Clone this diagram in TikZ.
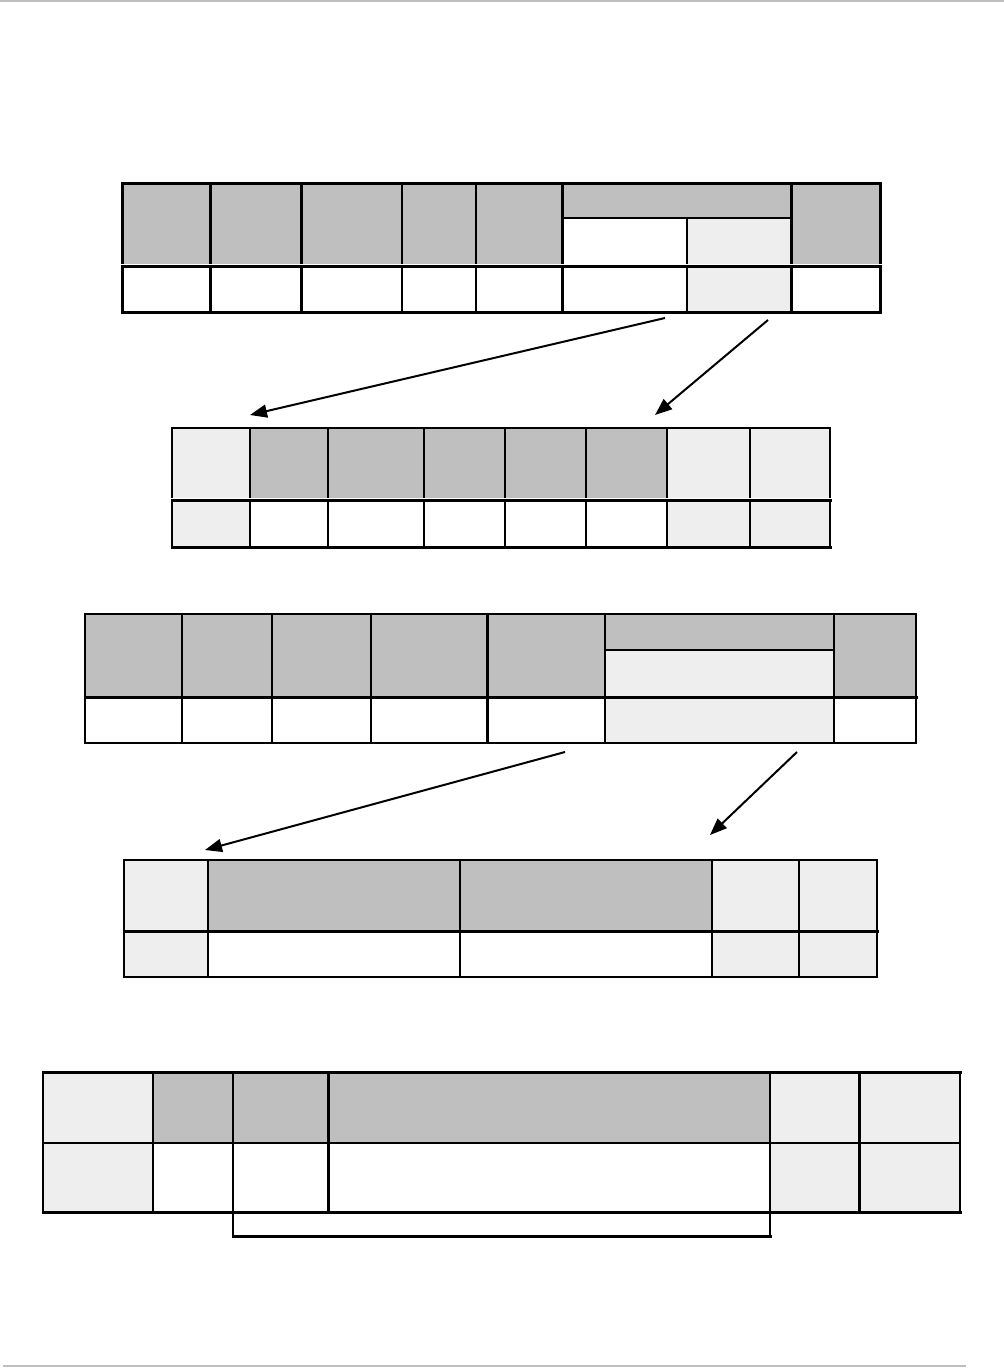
\documentclass[tikz,border=0pt]{standalone}
\usetikzlibrary{arrows.meta}
\definecolor{hdgray}{HTML}{BFBFBF}
\definecolor{ltgray}{HTML}{EEEEEE}
\begin{document}
\begin{tikzpicture}[x=0.5pt,y=-0.5pt,
  hd/.style={fill=hdgray}, lt/.style={fill=ltgray},
  thn/.style={line width=1pt}, thk/.style={line width=1.5pt},
  rule/.style={draw=hdgray,line width=1pt},
  link/.style={line width=1pt,-{Triangle[length=8.5pt,width=6.5pt]}}]
\useasboundingbox (0,0) rectangle (1004,1368);
% page rules
\draw[rule] (0,1) -- (1004,1);
\draw[rule] (3,1366) -- (966,1366);
% table 1
\fill[hd] (122,184) rectangle (880,264);
\fill[white] (562,218) rectangle (687,264);
\fill[lt] (687,218) rectangle (791,264);
\fill[lt] (687,266) rectangle (791,313);
\foreach \x/\s in {122/thk,210/thk,301/thk,402/thn,476/thn,562/thk,791/thk,880/thk}
  \draw[\s] (\x,184) -- (\x,264) (\x,267) -- (\x,313);
\draw[thn] (562,218) -- (791,218) (687,218) -- (687,264) (687,267) -- (687,313);
\draw[thk,line cap=rect] (122,184) -- (880,184) (122,267) -- (880,267) (122,313) -- (880,313);
\coordinate (t1a) at (665,318);
\coordinate (t1b) at (768,320);
% table 2
\fill[lt] (172,428) rectangle (250,498);
\fill[hd] (250,428) rectangle (667,498);
\fill[lt] (667,428) rectangle (830,498);
\fill[lt] (172,501) rectangle (250,547);
\fill[lt] (667,501) rectangle (830,547);
\foreach \x in {172,250,328,424,505,586,667,750,830}
  \draw[thn] (\x,428) -- (\x,498) (\x,501) -- (\x,547);
\draw[thn,line cap=rect] (172,428) -- (830,428);
\draw[thk,line cap=rect] (172,501) -- (830,501) (172,547) -- (830,547);
\coordinate (t2a) at (250,415);
\coordinate (t2b) at (655,415);
\draw[link] (t1a) -- (t2a);
\draw[link] (t1b) -- (t2b);
% table 3
\fill[hd] (85,614) rectangle (916,696);
\fill[lt] (605,650) rectangle (834,696);
\fill[lt] (605,698) rectangle (834,743);
\foreach \x/\s in {85/thn,182/thn,272/thn,371/thn,487/thk,605/thn,834/thn,916/thn}
  \draw[\s] (\x,614) -- (\x,743);
\draw[thn] (605,650) -- (834,650);
\draw[thn,line cap=rect] (85,614) -- (916,614) (85,743) -- (916,743);
\draw[thk,line cap=rect] (85,697) -- (916,697);
\coordinate (t3a) at (565,752);
\coordinate (t3b) at (797,752);
% table 4
\fill[lt] (124,860) rectangle (208,930);
\fill[hd] (208,860) rectangle (712,930);
\fill[lt] (712,860) rectangle (877,930);
\fill[lt] (124,932) rectangle (208,977);
\fill[lt] (712,932) rectangle (877,977);
\foreach \x in {124,208,460,712,799,877}
  \draw[thn] (\x,860) -- (\x,977);
\draw[thn,line cap=rect] (124,860) -- (877,860) (124,977) -- (877,977);
\draw[thk,line cap=rect] (124,931) -- (877,931);
\coordinate (t4a) at (205,850);
\coordinate (t4b) at (710,835);
\draw[link] (t3a) -- (t4a);
\draw[link] (t3b) -- (t4b);
% table 5
\fill[lt] (43,1072) rectangle (153,1142);
\fill[hd] (153,1072) rectangle (770,1142);
\fill[lt] (770,1072) rectangle (960,1142);
\fill[lt] (43,1143) rectangle (153,1212);
\fill[lt] (770,1143) rectangle (960,1212);
\foreach \x/\s in {43/thn,153/thn,233/thn,328/thk,770/thn,859/thk,960/thn}
  \draw[\s] (\x,1072) -- (\x,1212);
\draw[thn] (43,1143) -- (960,1143);
\draw[thk,line cap=rect] (43,1072) -- (960,1072) (43,1212) -- (960,1212);
% bracket under table 5
\draw[thn] (233,1212) -- (233,1236) (770,1212) -- (770,1236);
\draw[thk,line cap=rect] (233,1236) -- (770,1236);
\end{tikzpicture}
\end{document}
